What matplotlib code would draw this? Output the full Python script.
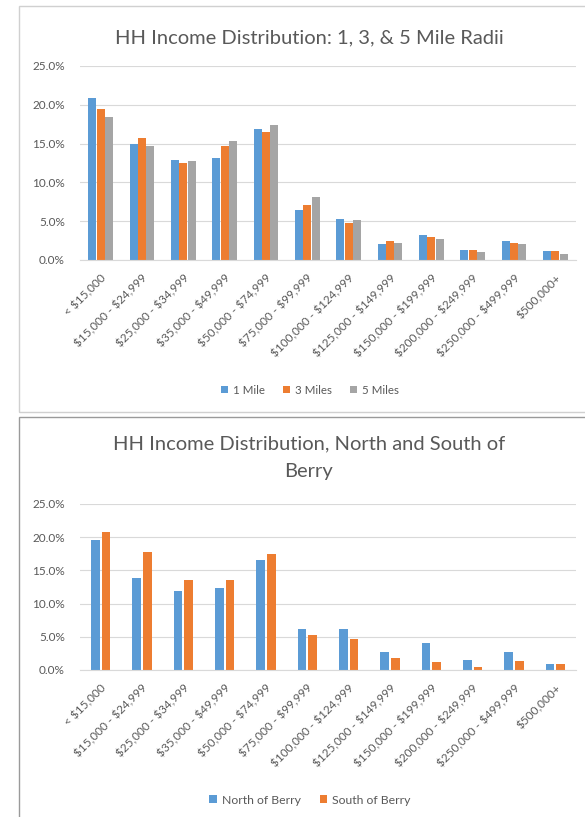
import numpy as np
import matplotlib
matplotlib.use("Agg")
import matplotlib.pyplot as plt
from matplotlib.patches import Rectangle
from matplotlib.ticker import FuncFormatter

plt.rcParams['font.family'] = ['Lato', 'DejaVu Sans']
plt.rcParams['text.parse_math'] = False  # labels contain literal dollar signs

# income brackets shared by both charts
brackets = ["< $15,000", "$15,000 - $24,999", "$25,000 - $34,999", "$35,000 - $49,999",
            "$50,000 - $74,999", "$75,000 - $99,999", "$100,000 - $124,999",
            "$125,000 - $149,999", "$150,000 - $199,999", "$200,000 - $249,999",
            "$250,000 - $499,999", "$500,000+"]

# share of households (%) by radius
mile1 = [20.9, 15.0, 12.9, 13.2, 16.9, 6.4, 5.3, 2.1, 3.2, 1.3, 2.4, 1.1]
mile3 = [19.5, 15.7, 12.5, 14.7, 16.5, 7.1, 4.8, 2.4, 2.9, 1.3, 2.25, 1.1]
mile5 = [18.4, 14.7, 12.8, 15.3, 17.4, 8.1, 5.1, 2.25, 2.7, 1.0, 2.0, 0.8]

# share of households (%) north / south of Berry
north = [19.6, 13.8, 11.9, 12.4, 16.5, 6.2, 6.25, 2.65, 4.05, 1.5, 2.65, 0.9]
south = [20.8, 17.8, 13.5, 13.5, 17.4, 5.2, 4.7, 1.8, 1.25, 0.5, 1.3, 0.85]

BLUE, ORANGE, GRAY = '#5B9BD5', '#ED7D31', '#A5A5A5'
TXT = '#595959'

fig = plt.figure(figsize=(5.85, 8.17), dpi=100)
fig.patch.set_facecolor('white')

# chart frames
fig.add_artist(Rectangle((19/585, 1-412/817), 1.0, 406/817, transform=fig.transFigure,
                         fill=False, edgecolor='#d0d0d0', lw=1.0))
fig.add_artist(Rectangle((19/585, -0.01), 1.0, 1-417/817+0.01, transform=fig.transFigure,
                         fill=False, edgecolor='#9a9a9a', lw=1.0))

pct = FuncFormatter(lambda v, _: f"{v:.1f}%")


def style(ax):
    ax.set_xlim(-0.5, len(brackets) - 0.5)
    ax.set_ylim(0, 25)
    ax.set_yticks(np.arange(0, 26, 5))
    ax.yaxis.set_major_formatter(pct)
    ax.grid(axis='y', color='#d9d9d9', lw=0.8)
    ax.set_axisbelow(True)
    for s in ['top', 'right', 'left']:
        ax.spines[s].set_visible(False)
    ax.spines['bottom'].set_color('#d9d9d9')
    ax.tick_params(length=0, colors=TXT)
    ax.tick_params(axis='y', pad=11, labelsize=8.5)
    ax.set_xticks(np.arange(len(brackets)))
    ax.set_xticklabels(brackets, rotation=45, ha='right', rotation_mode='anchor')
    ax.tick_params(axis='x', pad=9, labelsize=8.5)


x = np.arange(len(brackets))

# top chart: 1, 3, 5 mile radii
ax1 = fig.add_axes([80/585, 1-260/817, 496/585, 194/817])
w = 0.19
ax1.bar(x - w*1.05, mile1, w, color=BLUE, label='1 Mile')
ax1.bar(x, mile3, w, color=ORANGE, label='3 Miles')
ax1.bar(x + w*1.05, mile5, w, color=GRAY, label='5 Miles')
style(ax1)
fig.text(0.528, 1-38/817, "HH Income Distribution: 1, 3, & 5 Mile Radii",
         ha='center', va='center', fontsize=14.5, color=TXT)
fig.legend(*ax1.get_legend_handles_labels(), loc='center', bbox_to_anchor=(0.53, 1-390/817),
           ncol=3, frameon=False, fontsize=8.3, labelcolor=TXT, handlelength=0.6,
           handleheight=0.6, handletextpad=0.4, columnspacing=1.6)

# bottom chart: north vs south of Berry
ax2 = fig.add_axes([80/585, 1-670/817, 496/585, 166/817])
w2 = 0.21
ax2.bar(x - w2*0.6, north, w2, color=BLUE, label='North of Berry')
ax2.bar(x + w2*0.6, south, w2, color=ORANGE, label='South of Berry')
style(ax2)
fig.text(0.528, 1-458/817, "HH Income Distribution, North and South of\nBerry",
         ha='center', va='center', fontsize=14.5, color=TXT, linespacing=1.75)
fig.legend(*ax2.get_legend_handles_labels(), loc='center', bbox_to_anchor=(0.53, 1-800/817),
           ncol=2, frameon=False, fontsize=8.8, labelcolor=TXT, handlelength=0.6,
           handleheight=0.6, handletextpad=0.4, columnspacing=1.6)

fig.savefig('out.png', dpi=100)
